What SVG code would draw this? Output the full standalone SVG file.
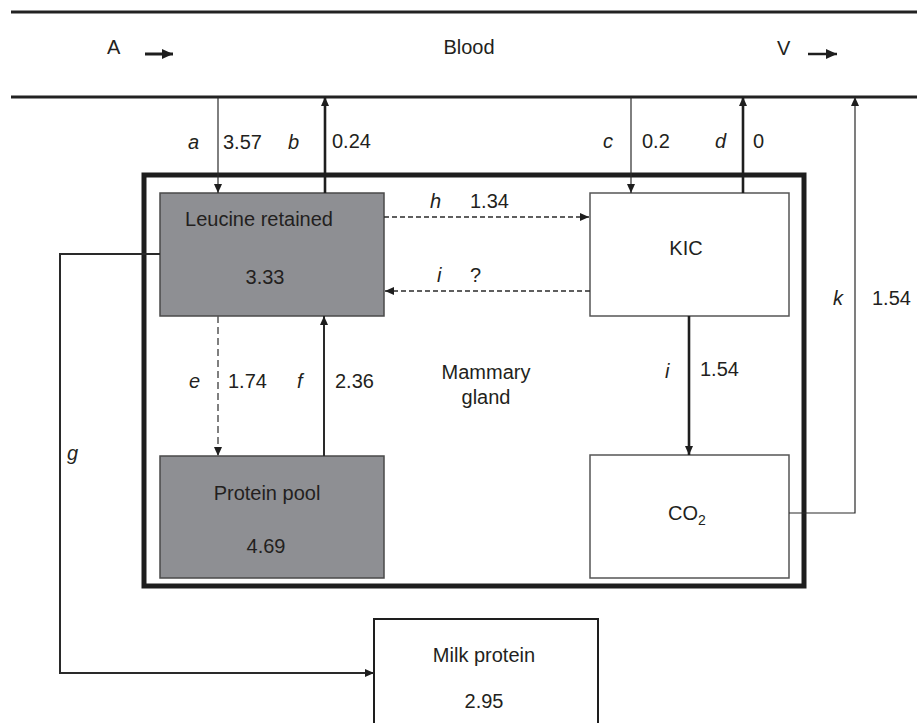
<svg xmlns="http://www.w3.org/2000/svg" width="917" height="723" viewBox="0 0 917 723">
<style>
text{font-family:"Liberation Sans",Arial,sans-serif;font-size:20px;fill:#231f20}
.it{font-style:italic}
.m{text-anchor:middle}
.gray{fill:#8e8f93;stroke:#4a4a4a;stroke-width:1.5}
.white{fill:#ffffff;stroke:#555555;stroke-width:1.5}
.thin{stroke:#2a2a2a;stroke-width:1.2;fill:none}
.mid{stroke:#2a2a2a;stroke-width:2;fill:none}
.thick{stroke:#1e1e1e;stroke-width:2.6;fill:none}
.dash{stroke:#2a2a2a;stroke-width:1.5;stroke-dasharray:5 3;fill:none}
.dashg{stroke:#555555;stroke-width:1.5;stroke-dasharray:7 4;fill:none}
</style>
<defs>
<marker id="ah" markerUnits="userSpaceOnUse" markerWidth="9" markerHeight="8" viewBox="0 0 9 8" refX="9" refY="4" orient="auto"><path d="M0,0 L9,4 L0,8 z" fill="#1e1e1e"/></marker>
<marker id="big" markerUnits="userSpaceOnUse" markerWidth="11" markerHeight="10" viewBox="0 0 11 10" refX="11" refY="5" orient="auto"><path d="M0,0 L11,5 L0,10 z" fill="#1e1e1e"/></marker>
</defs>

<g id="blood">
<line x1="11" y1="12" x2="917" y2="12" stroke="#222" stroke-width="3"/>
<line x1="11" y1="97" x2="917" y2="97" stroke="#222" stroke-width="3"/>
<text x="107" y="54">A</text>
<line x1="145" y1="54" x2="173" y2="54" stroke="#1e1e1e" stroke-width="3" marker-end="url(#big)"/>
<text class="m" x="469" y="54">Blood</text>
<text x="777" y="55">V</text>
<line x1="808" y1="54" x2="837" y2="54" stroke="#1e1e1e" stroke-width="2.5" marker-end="url(#big)"/>
</g>

<g id="mammary-gland">
<rect x="144" y="175" width="660" height="411" fill="none" stroke="#1e1e1e" stroke-width="5"/>
<text class="m" x="486" y="379">Mammary</text>
<text class="m" x="486" y="404">gland</text>
</g>

<g id="leucine-retained">
<rect class="gray" x="160" y="193" width="224" height="123"/>
<text class="m" x="259" y="226">Leucine retained</text>
<text class="m" x="265" y="284">3.33</text>
</g>

<g id="protein-pool">
<rect class="gray" x="160" y="456" width="224" height="122"/>
<text class="m" x="267" y="500">Protein pool</text>
<text class="m" x="266" y="553">4.69</text>
</g>

<g id="kic">
<rect class="white" x="590" y="193" width="199" height="123"/>
<text class="m" x="686" y="255">KIC</text>
</g>

<g id="co2">
<rect class="white" x="590" y="455" width="199" height="123"/>
<text x="668" y="520">CO<tspan font-size="14" dy="5">2</tspan></text>
</g>

<g id="milk-protein">
<rect x="374" y="619" width="224" height="120" fill="#ffffff" stroke="#1e1e1e" stroke-width="2"/>
<text class="m" x="484" y="662">Milk protein</text>
<text class="m" x="484" y="708">2.95</text>
</g>

<g id="connectors">
<line class="thin" x1="218" y1="97" x2="218" y2="193" marker-end="url(#ah)"/>
<line class="thick" x1="325" y1="193" x2="325" y2="97" marker-end="url(#ah)"/>
<line class="thin" x1="631" y1="97" x2="631" y2="193" marker-end="url(#ah)"/>
<line class="thick" x1="743" y1="193" x2="743" y2="97" marker-end="url(#ah)"/>
<polyline class="thin" points="789,513 855,513 855,97" stroke="#555" marker-end="url(#ah)"/>
<line class="dash" x1="384" y1="217" x2="589" y2="217" marker-end="url(#ah)"/>
<line class="dash" x1="590" y1="291" x2="385" y2="291" marker-end="url(#ah)"/>
<line class="dashg" x1="218" y1="316" x2="218" y2="456" marker-end="url(#ah)"/>
<line class="mid" x1="324" y1="456" x2="324" y2="316" marker-end="url(#ah)"/>
<line class="thick" x1="689" y1="316" x2="689" y2="455" marker-end="url(#ah)"/>
<polyline class="mid" points="160,254 60,254 60,673 374,673" marker-end="url(#ah)"/>
</g>

<g id="labels">
<text class="it" x="188" y="149">a</text>
<text x="223" y="149">3.57</text>
<text class="it" x="288" y="149">b</text>
<text x="332" y="148">0.24</text>
<text class="it" x="603" y="148">c</text>
<text x="642" y="148">0.2</text>
<text class="it" x="715" y="148">d</text>
<text x="753" y="148">0</text>
<text class="it" x="430" y="208">h</text>
<text x="470" y="208">1.34</text>
<text class="it" x="437" y="282">i</text>
<text x="470" y="282">?</text>
<text class="it" x="189" y="388">e</text>
<text x="228" y="388">1.74</text>
<text class="it" x="297" y="388">f</text>
<text x="335" y="388">2.36</text>
<text class="it" x="665" y="378">i</text>
<text x="700" y="376">1.54</text>
<text class="it" x="833" y="305">k</text>
<text x="872" y="305">1.54</text>
<text class="it" x="67" y="460">g</text>
</g>
</svg>
